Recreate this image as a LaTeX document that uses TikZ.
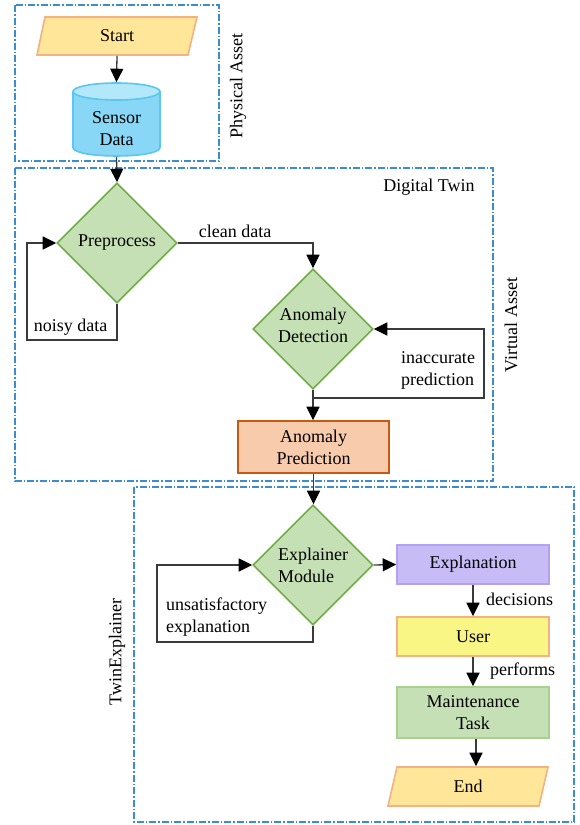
\documentclass[tikz,border=0pt]{standalone}
\usepackage{fontspec}
\setmainfont{Liberation Serif}
\usetikzlibrary{shapes.geometric,arrows.meta,calc}
\definecolor{regblue}{HTML}{3C8DD0}
\definecolor{diafill}{HTML}{C5E0B4}
\definecolor{diadraw}{HTML}{70AD47}
\definecolor{parafill}{HTML}{FFE699}
\definecolor{paradraw}{HTML}{F4B183}
\definecolor{cylfill}{HTML}{88D7F7}
\definecolor{cyltop}{HTML}{B3E8FB}
\definecolor{cyldraw}{HTML}{5BC6EF}
\definecolor{apfill}{HTML}{F8CBAD}
\definecolor{apdraw}{HTML}{C55A11}
\definecolor{exfill}{HTML}{C7BCF6}
\definecolor{exdraw}{HTML}{B3A2F1}
\definecolor{userfill}{HTML}{FAF685}
\definecolor{mtdraw}{HTML}{A9D18E}
\definecolor{connline}{HTML}{3A3A3A}
\tikzset{
  conn/.style={draw=connline, line width=1.3pt, -{Triangle[length=13.5pt,width=13pt,color=black]}},
  region/.style={draw=regblue, line width=1.2pt, dash pattern=on 7pt off 2pt on 1.5pt off 2pt},
  dia/.style={diamond, draw=diadraw, fill=diafill, line width=1.6pt, minimum width=120pt, minimum height=120pt, inner sep=0pt},
  box/.style={rectangle, line width=1.6pt, inner sep=0pt, align=center},
  para/.style={draw=paradraw, fill=parafill, line width=1.6pt},
  lbl/.style={inner sep=0pt, align=left},
}
\begin{document}
\begin{tikzpicture}[x=1pt, y=-1pt, font=\fontsize{18}{22}\selectfont]
\useasboundingbox (0,0) rectangle (579,825);
% regions
\draw[region] (15,5) rectangle (219,161);
\draw[region] (15,168) rectangle (493,481);
\draw[region] (134,487) rectangle (574,822);
\node[lbl, rotate=90] (physlbl) at (238,86) {Physical Asset};
\node[lbl] (dtlbl) at (429,187) {Digital Twin};
\node[lbl, rotate=90] (valbl) at (511,325) {Virtual Asset};
\node[lbl, rotate=90] (telbl) at (117,652) {TwinExplainer};
% start
\path[para] (37,55) -- (188,55) -- (197,17) -- (45,17) -- cycle;
\node[box, minimum width=152pt, minimum height=38pt] (start) at (117,36) {Start};
% cylinder
\fill[cylfill] (73,91.5) rectangle (160,147.5);
\fill[cylfill] (116.5,147.5) ellipse [x radius=43.5, y radius=8.5];
\draw[cyldraw, line width=1.6pt] (73,91.5) -- (73,147.5) .. controls (73,158.8) and (160,158.8) .. (160,147.5) -- (160,91.5);
\draw[cyldraw, fill=cyltop, line width=1.6pt] (116.5,91.5) ellipse [x radius=43.5, y radius=8.5];
\node[box, minimum width=87pt, minimum height=73pt] (sensor) at (116.5,119.5) {};
\node[lbl, align=center] (sensortxt) at (116.5,128.5) {Sensor\\Data};
% diamonds
\node[dia, label={[align=center]center:Preprocess}] (pre) at (117,243) {};
\node[dia, label={[align=center, yshift=4pt]center:Anomaly\\Detection}] (ad) at (313,329) {};
\node[dia, label={[align=left]center:Explainer\\Module}] (em) at (313,565) {};
% boxes
\node[box, draw=apdraw, fill=apfill, minimum width=151pt, minimum height=52pt] (ap) at (313.5,447) {Anomaly\\Prediction};
\node[box, draw=exdraw, fill=exfill, minimum width=152pt, minimum height=39pt] (expl) at (473,564.5) {Explanation};
\node[box, draw=paradraw, fill=userfill, minimum width=152pt, minimum height=39pt] (user) at (473,636.5) {User};
\node[box, draw=mtdraw, fill=diafill, minimum width=152pt, minimum height=51pt] (maint) at (473,712.5) {Maintenance\\Task};
\path[para] (388,806) -- (539,806) -- (548,767) -- (397,767) -- cycle;
\node[box, minimum width=152pt, minimum height=39pt] (end) at (468,786.5) {End};
% connectors
\draw[conn] (start.south) -- (sensor.north);
\draw[conn] (sensor.south) -- (pre.north);
\coordinate (nl) at (27,340);
\draw[conn] (pre.south) |- (nl) |- (pre.west);
\node[lbl] (noisy) at (70.5,327) {noisy data};
\draw[conn] (pre.east) -| (ad.north);
\node[lbl] (clean) at (235,231) {clean data};
\draw[conn] (ad.south) -- (ad.south |- ap.north);
\coordinate (il) at (484,398);
\draw[conn] (ad.south |- il) -- (il) |- (ad.east);
\node[lbl] (inacc) at (438,370) {inaccurate\\prediction};
\draw[conn] (ap.south) -- (ap.south |- em.north);
\coordinate (ul) at (157,642);
\draw[conn] (em.south) |- (ul) |- (em.west);
\node[lbl, anchor=west] (unsat) at (166,617.5) {unsatisfactory\\explanation};
\draw[conn] (em.east) -- (expl.west);
\draw[conn] (expl.south) -- (user.north);
\node[lbl, anchor=west] (dec) at (486,599) {decisions};
\draw[conn] (user.south) -- (maint.north);
\node[lbl, anchor=west] (perf) at (490,671) {performs};
\draw[conn] ([xshift=3pt]maint.south) -- ([xshift=3pt]maint.south |- end.north);
\end{tikzpicture}
\end{document}
